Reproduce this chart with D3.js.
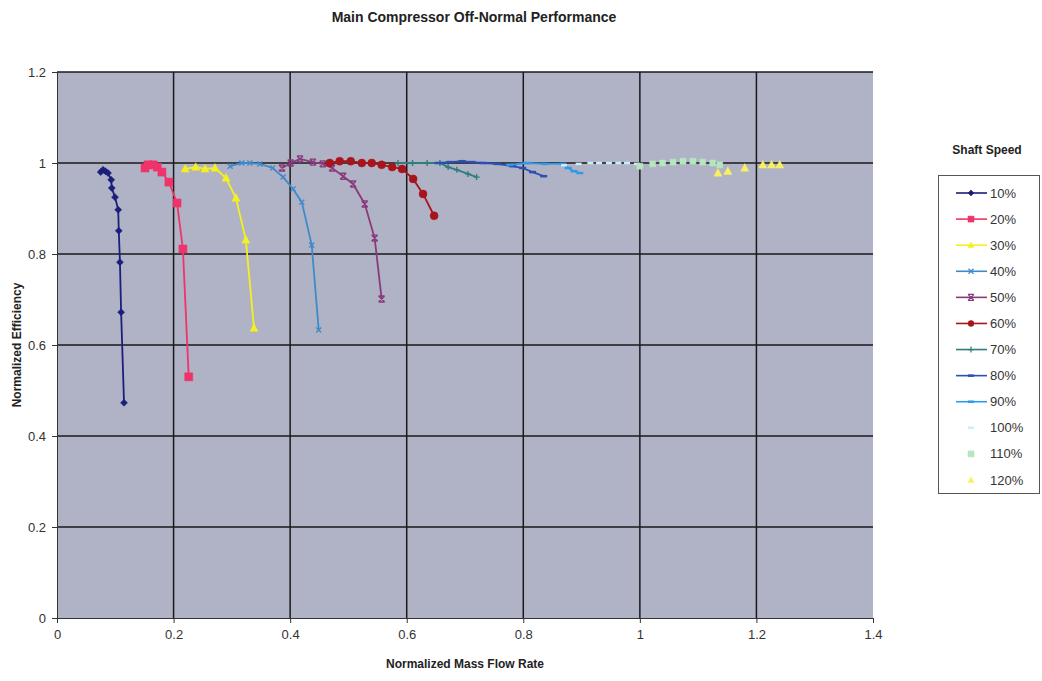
<!DOCTYPE html>
<html>
<head>
<meta charset="utf-8">
<script src="https://cdn.jsdelivr.net/npm/d3@7/dist/d3.min.js"></script>
<style>
  body { margin: 0; background: #fff; }
  svg { font-family: "Liberation Sans", Arial, sans-serif; }
</style>
</head>
<body>
<svg id="chart" width="1042" height="681"></svg>
<script>
// series labels, in legend order
const seriesNames = ['10%', '20%', '30%', '40%', '50%', '60%', '70%', '80%', '90%', '100%', '110%', '120%'];
const seriesColors = ['#1b1f7a', '#f0336b', '#f5f020', '#3d8bcb', '#8a3a7c', '#a8141c', '#2e7f7a', '#2b4fb5', '#2f9be6', '#c8eef8', '#b5e6c0', '#f8f060'];

// [mass flow, efficiency] pairs
const s10 = [[0.075, 0.980], [0.079, 0.985], [0.083, 0.982], [0.0875, 0.978], [0.093, 0.963], [0.094, 0.945], [0.0995, 0.925], [0.105, 0.897], [0.106, 0.851], [0.108, 0.782], [0.110, 0.672], [0.115, 0.473]];
const s20 = [[0.151, 0.989], [0.156, 0.996], [0.165, 0.996], [0.172, 0.991], [0.180, 0.980], [0.192, 0.958], [0.206, 0.912], [0.216, 0.811], [0.226, 0.530]];
const s30 = [[0.220, 0.987], [0.238, 0.991], [0.254, 0.987], [0.271, 0.989], [0.290, 0.967], [0.307, 0.923], [0.324, 0.831], [0.338, 0.637]];
const s40 = [[0.297, 0.993], [0.317, 1.0], [0.331, 1.0], [0.348, 0.998], [0.370, 0.989], [0.388, 0.969], [0.405, 0.943], [0.420, 0.914], [0.437, 0.820], [0.449, 0.633]];
const s50 = [[0.386, 0.989], [0.401, 1.0], [0.417, 1.009], [0.439, 1.002], [0.456, 0.998], [0.472, 0.989], [0.491, 0.971], [0.508, 0.954], [0.528, 0.910], [0.545, 0.835], [0.557, 0.701]];
const s60 = [[0.468, 1.0], [0.485, 1.004], [0.504, 1.004], [0.523, 1.0], [0.540, 1.0], [0.557, 0.996], [0.575, 0.991], [0.592, 0.987], [0.611, 0.965], [0.628, 0.932], [0.647, 0.884]];
const s70 = [[0.585, 1.0], [0.610, 1.0], [0.635, 1.0], [0.657, 1.0], [0.671, 0.991], [0.686, 0.985], [0.705, 0.976], [0.720, 0.969]];
const s80 = [[0.654, 1.0], [0.674, 1.002], [0.695, 1.004], [0.712, 1.002], [0.731, 1.0], [0.755, 0.998], [0.782, 0.993], [0.799, 0.989], [0.816, 0.980], [0.835, 0.971]];
const s90 = [[0.777, 0.996], [0.806, 1.0], [0.837, 0.998], [0.868, 0.998], [0.877, 0.989], [0.887, 0.982], [0.897, 0.978]];
const s100 = [[0.870, 0.995], [0.895, 0.998], [0.915, 1.0], [0.930, 1.0], [0.947, 1.0], [0.963, 1.0], [0.978, 1.0], [0.995, 0.998]];
const s110 = [[1.0, 0.993], [1.022, 0.998], [1.039, 1.0], [1.057, 1.002], [1.074, 1.004], [1.091, 1.004], [1.108, 1.002], [1.125, 1.0], [1.137, 0.996]];
const s120 = [[1.134, 0.978], [1.151, 0.982], [1.180, 0.989], [1.211, 0.996], [1.226, 0.996], [1.240, 0.996]];

const seriesData = [s10, s20, s30, s40, s50, s60, s70, s80, s90, s100, s110, s120];

const xTicks = [0, 0.2, 0.4, 0.6, 0.8, 1, 1.2, 1.4];
const yTicks = [0, 0.2, 0.4, 0.6, 0.8, 1, 1.2];

// marker kind per series, and whether a line joins the points
const markerKinds = ['diamond', 'square', 'triangle', 'x', 'star', 'circle', 'plus', 'dash', 'dash', 'dash', 'square', 'triangle'];
const drawLine = [true, true, true, true, true, true, true, true, true, false, false, false];

const margin = { left: 57, top: 72, right: 873, bottom: 618 };

const svg = d3.select('#chart');

const x = d3.scaleLinear().domain([0, 1.4]).range([margin.left, margin.right]);
const y = d3.scaleLinear().domain([0, 1.2]).range([margin.bottom, margin.top]);

// plot area background
svg.append('rect')
  .attr('x', margin.left).attr('y', margin.top)
  .attr('width', margin.right - margin.left).attr('height', margin.bottom - margin.top)
  .attr('fill', '#b0b2c5');

// grid
svg.append('g').selectAll('line').data(yTicks.slice(1)).enter().append('line')
  .attr('x1', margin.left).attr('x2', margin.right)
  .attr('y1', d => y(d)).attr('y2', d => y(d))
  .attr('stroke', '#1a1a1a').attr('stroke-width', 1.5);
svg.append('g').selectAll('line').data(xTicks.slice(1, -1)).enter().append('line')
  .attr('y1', margin.top).attr('y2', margin.bottom)
  .attr('x1', d => x(d)).attr('x2', d => x(d))
  .attr('stroke', '#1a1a1a').attr('stroke-width', 1.5);

// axes
const xAxis = svg.append('g')
  .attr('transform', `translate(0,${margin.bottom})`)
  .call(d3.axisBottom(x).tickValues(xTicks).tickFormat(d3.format('')).tickSize(5).tickPadding(7));
const yAxis = svg.append('g')
  .attr('transform', `translate(${margin.left},0)`)
  .call(d3.axisLeft(y).tickValues(yTicks).tickFormat(d3.format('')).tickSize(5).tickPadding(6));

[xAxis, yAxis].forEach(a => {
  a.select('.domain').attr('stroke', '#333').attr('stroke-width', 1);
  a.selectAll('.tick line').attr('stroke', '#333');
  a.selectAll('text').attr('font-size', 13).attr('fill', '#333').attr('font-family', '"Liberation Sans", Arial, sans-serif');
});

function markerPath(kind, size) {
  const s = size;
  switch (kind) {
    case 'diamond': return `M0,${-s}L${s},0L0,${s}L${-s},0Z`;
    case 'square': return `M${-s},${-s}H${s}V${s}H${-s}Z`;
    case 'triangle': return `M0,${-s * 1.1}L${s},${s * 0.8}L${-s},${s * 0.8}Z`;
    case 'circle': return d3.symbol(d3.symbolCircle, Math.PI * s * s)();
    case 'x': return `M${-s},${-s}L${s},${s}M${-s},${s}L${s},${-s}`;
    case 'star': return `M${-s},${-s}L${s},${s}M${-s},${s}L${s},${-s}M${-s},${-s}H${s}M${-s},${s}H${s}`;
    case 'plus': return `M${-s},0H${s}M0,${-s}V${s}`;
    case 'dash': return `M${-s},0H${s}`;
  }
}
const filled = k => ['diamond', 'square', 'triangle', 'circle'].includes(k);
const markerSize = [3.5, 4, 4, 2.5, 3, 4, 3, 3.5, 3.5, 3, 3, 4];

const line = d3.line().x(d => x(d[0])).y(d => y(d[1]));

seriesData.forEach((pts, i) => {
  const g = svg.append('g');
  const color = seriesColors[i];
  if (drawLine[i]) {
    g.append('path').datum(pts)
      .attr('d', line)
      .attr('fill', 'none')
      .attr('stroke', color)
      .attr('stroke-width', 1.8);
  }
  const k = markerKinds[i];
  g.selectAll('path.m').data(pts).enter().append('path')
    .attr('class', 'm')
    .attr('transform', d => `translate(${x(d[0])},${y(d[1])})`)
    .attr('d', markerPath(k, markerSize[i]))
    .attr('fill', filled(k) ? color : 'none')
    .attr('stroke', color)
    .attr('stroke-width', filled(k) ? 0.5 : (k === 'dash' ? 2.5 : 1.4));
});

// titles
svg.append('text')
  .attr('x', 474).attr('y', 22)
  .attr('text-anchor', 'middle')
  .attr('font-size', 14).attr('font-weight', 'bold').attr('fill', '#222')
  .text('Main Compressor Off-Normal Performance');

svg.append('text')
  .attr('x', 465).attr('y', 668)
  .attr('text-anchor', 'middle')
  .attr('font-size', 12).attr('font-weight', 'bold').attr('fill', '#222')
  .text('Normalized Mass Flow Rate');

svg.append('text')
  .attr('transform', 'translate(21,345) rotate(-90)')
  .attr('text-anchor', 'middle')
  .attr('font-size', 12).attr('font-weight', 'bold').attr('fill', '#222')
  .text('Normalized Efficiency');

// legend
svg.append('text')
  .attr('x', 987).attr('y', 154)
  .attr('text-anchor', 'middle')
  .attr('font-size', 12).attr('font-weight', 'bold').attr('fill', '#222')
  .text('Shaft Speed');

svg.append('rect')
  .attr('x', 938.5).attr('y', 175.5).attr('width', 101).attr('height', 318)
  .attr('fill', '#fff').attr('stroke', '#555').attr('stroke-width', 1);

const legendY = d3.scalePoint().domain(seriesNames).range([193, 480]);

seriesNames.forEach((name, i) => {
  const ly = legendY(name);
  const color = seriesColors[i];
  if (drawLine[i]) {
    svg.append('line')
      .attr('x1', 956).attr('x2', 987).attr('y1', ly).attr('y2', ly)
      .attr('stroke', color).attr('stroke-width', 1.6);
  }
  const k = markerKinds[i];
  svg.append('path')
    .attr('transform', `translate(971,${ly})`)
    .attr('d', markerPath(k, Math.min(markerSize[i], 3)))
    .attr('fill', filled(k) ? color : 'none')
    .attr('stroke', color)
    .attr('stroke-width', filled(k) ? 0.5 : (k === 'dash' ? 2.5 : 1.2));
  svg.append('text')
    .attr('x', 990).attr('y', ly + 4.5)
    .attr('font-size', 13).attr('fill', '#333')
    .text(name);
});
</script>
</body>
</html>
